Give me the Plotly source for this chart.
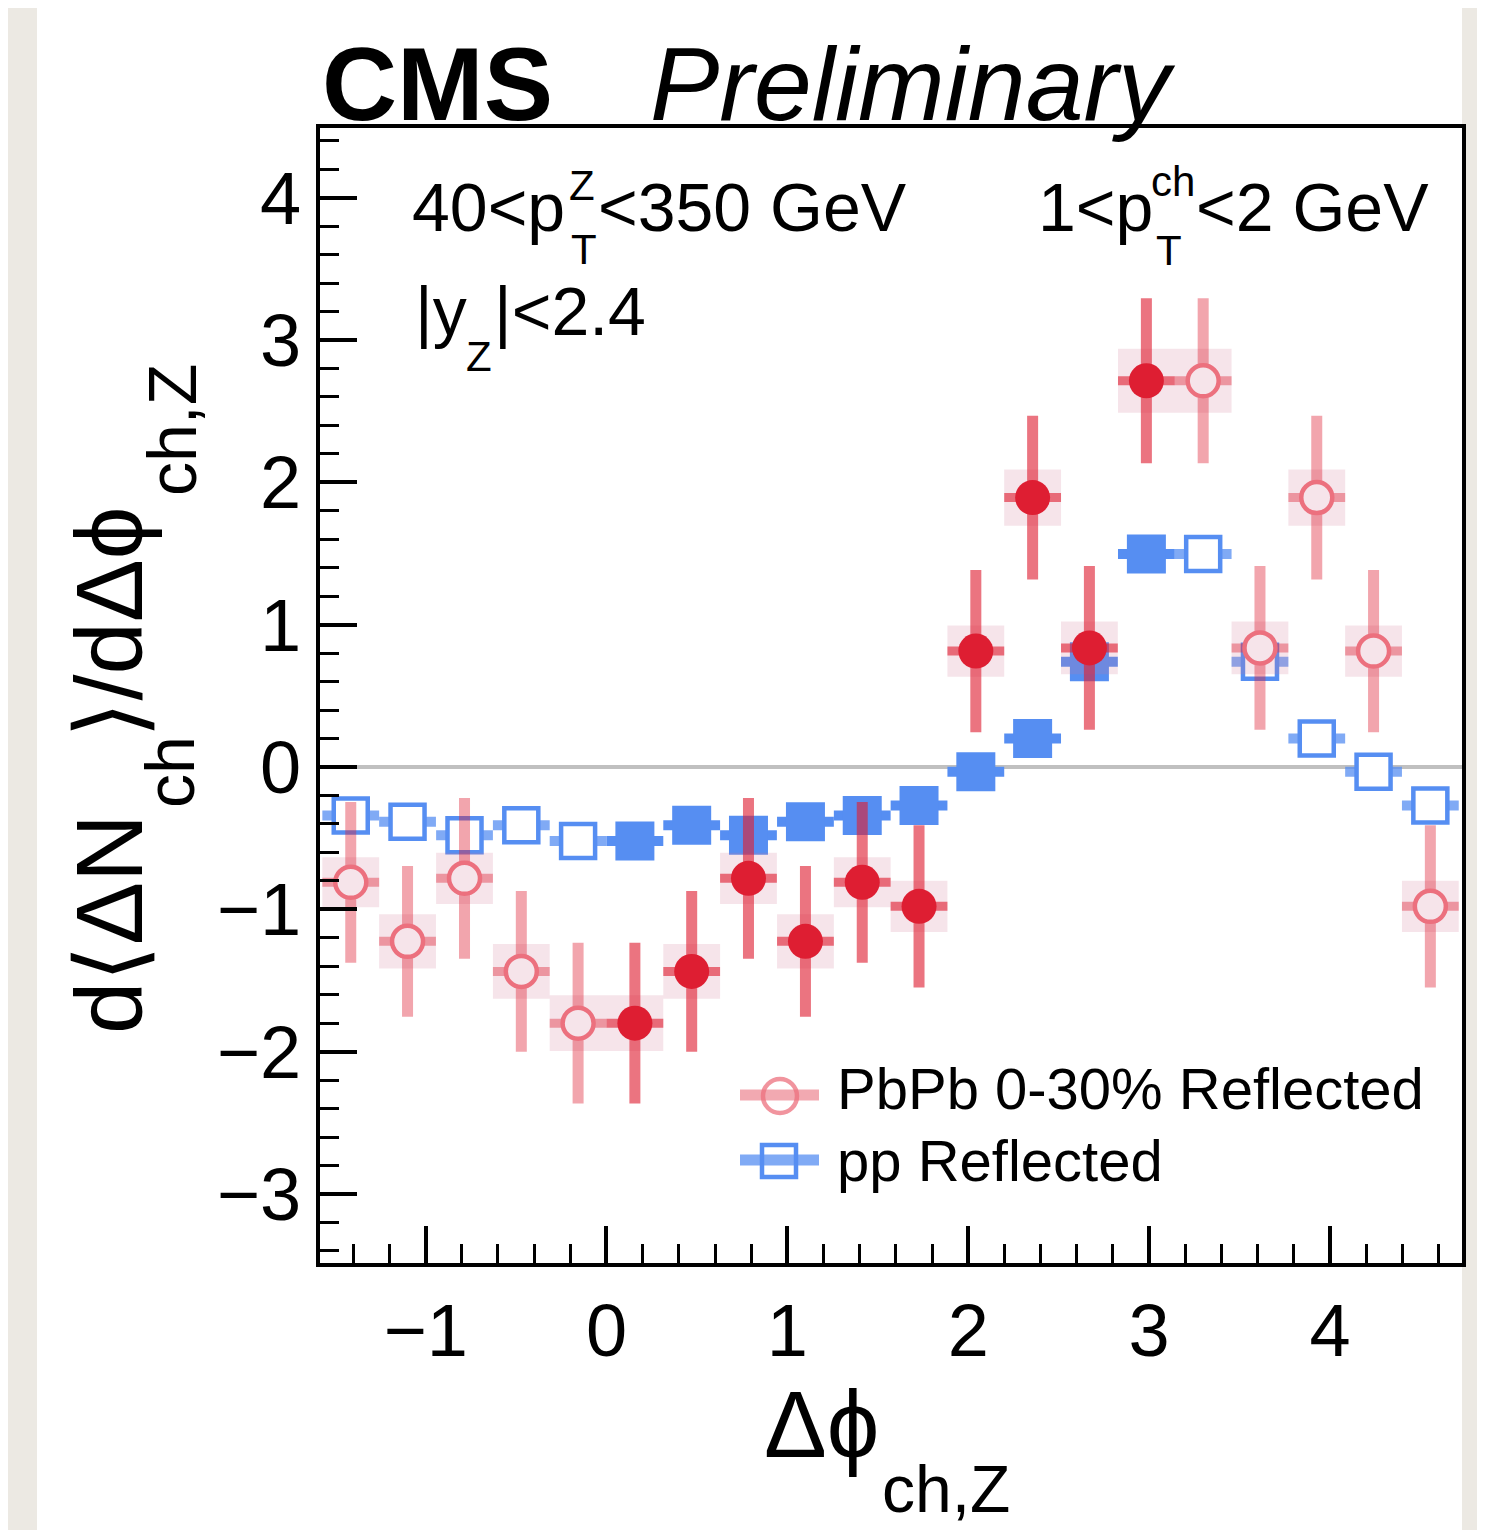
import numpy as np
import plotly.graph_objects as go

# ---------------- data ----------------
bin_width = 0.314  # width of a delta-phi bin (pi/10)

dphi_measured = [0.157, 0.471, 0.785, 1.100, 1.414, 1.728, 2.042, 2.356, 2.670, 2.985]
dphi_reflected = [-1.414, -1.100, -0.785, -0.471, -0.157, 3.299, 3.613, 3.927, 4.241, 4.555]

pbpb_measured = [-1.80, -1.436, -0.782, -1.225, -0.81, -0.979, 0.815, 1.893, 0.837, 2.714]
pbpb_measured_stat = [0.565, 0.565, 0.565, 0.53, 0.565, 0.57, 0.57, 0.575, 0.575, 0.58]
pbpb_measured_syst = [0.196, 0.193, 0.18, 0.19, 0.176, 0.18, 0.18, 0.197, 0.186, 0.225]

pbpb_reflected = [-0.81, -1.225, -0.782, -1.436, -1.80, 2.714, 0.837, 1.893, 0.815, -0.979]
pbpb_reflected_stat = [0.565, 0.53, 0.565, 0.565, 0.565, 0.58, 0.575, 0.575, 0.57, 0.57]
pbpb_reflected_syst = [0.176, 0.19, 0.18, 0.193, 0.196, 0.225, 0.186, 0.197, 0.18, 0.18]

pp_measured = [-0.52, -0.41, -0.48, -0.385, -0.34, -0.27, -0.034, 0.20, 0.74, 1.497]
pp_reflected = [-0.34, -0.385, -0.48, -0.41, -0.52, 1.497, 0.74, 0.20, -0.034, -0.27]

legend_labels = ["PbPb 0-30% Reflected", "pp Reflected"]

# ---------------- styles ----------------
FONT = "Liberation Sans, Arial, Helvetica, sans-serif"
RED = "rgb(222,30,50)"
RED_BAR = "rgba(222,30,50,0.62)"
RED_BAR_LIGHT = "rgba(222,30,50,0.40)"
RED_OPEN_LINE = "rgb(236,112,126)"
BOX_FILL = "rgba(210,120,150,0.2)"
BOX_SOLID = "rgb(246,228,234)"
BLUE = "rgb(86,142,242)"
BLUE_BAR_LIGHT = "rgba(86,142,242,0.75)"

# page is offset by the default 8px body margin: work in page pixels, convert
OFF = 8
PAGE_W, PAGE_H = 1485, 1530
W, H = PAGE_W - OFF, PAGE_H - OFF
AX_L, AX_R, AX_T, AX_B = 320, 1462, 128, 1263  # plot box in page pixels
L, T = AX_L - OFF, AX_T - OFF
R, B = PAGE_W - AX_R, PAGE_H - AX_B
PW, PH = AX_R - AX_L, AX_B - AX_T


def pxx(x):
    return (x - AX_L) / PW


def pxy(y):
    return (AX_B - y) / PH


def box_path(xs, ys, errs, w):
    bx, by = [], []
    for x, y, e in zip(xs, ys, errs):
        bx += [x - w / 2, x + w / 2, x + w / 2, x - w / 2, x - w / 2, None]
        by += [y - e, y - e, y + e, y + e, y - e, None]
    return bx, by


fig = go.Figure()

# pp reflected (open squares)
fig.add_trace(go.Scatter(
    x=dphi_reflected, y=pp_reflected, mode="markers", name=legend_labels[1],
    marker=dict(symbol="square", size=34, color="white", line=dict(color=BLUE, width=4.5)),
    error_x=dict(type="constant", value=bin_width / 2, color=BLUE_BAR_LIGHT, thickness=10, width=0),
    showlegend=False,
))
# pp measured (filled squares)
fig.add_trace(go.Scatter(
    x=dphi_measured, y=pp_measured, mode="markers", name="pp",
    marker=dict(symbol="square", size=39, color=BLUE, line=dict(width=0)),
    error_x=dict(type="constant", value=bin_width / 2, color=BLUE, thickness=10, width=0),
    showlegend=False,
))

# PbPb systematic boxes
bx1, by1 = box_path(dphi_measured, pbpb_measured, pbpb_measured_syst, bin_width)
bx2, by2 = box_path(dphi_reflected, pbpb_reflected, pbpb_reflected_syst, bin_width)
fig.add_trace(go.Scatter(
    x=bx1 + bx2, y=by1 + by2, mode="lines", fill="toself", fillcolor=BOX_FILL,
    line=dict(width=0, color="rgba(0,0,0,0)"), hoverinfo="skip", showlegend=False,
))

# PbPb reflected (open circles)
fig.add_trace(go.Scatter(
    x=dphi_reflected, y=pbpb_reflected, mode="markers", name=legend_labels[0],
    marker=dict(symbol="circle", size=31, color=BOX_SOLID, line=dict(color=RED_OPEN_LINE, width=4.5)),
    error_y=dict(type="data", array=pbpb_reflected_stat, color=RED_BAR_LIGHT, thickness=11, width=0),
    error_x=dict(type="constant", value=bin_width / 2, color=RED_BAR_LIGHT, thickness=9, width=0),
    showlegend=False,
))
# PbPb measured (filled circles)
fig.add_trace(go.Scatter(
    x=dphi_measured, y=pbpb_measured, mode="markers", name="PbPb 0-30%",
    marker=dict(symbol="circle", size=35, color=RED, line=dict(width=0)),
    error_y=dict(type="data", array=pbpb_measured_stat, color=RED_BAR, thickness=11, width=0),
    error_x=dict(type="constant", value=bin_width / 2, color=RED_BAR, thickness=9, width=0),
    showlegend=False,
))

axis_common = dict(
    showline=True, linecolor="black", linewidth=4, mirror=True,
    ticks="inside", ticklen=37, tickwidth=3.5, tickcolor="black",
    showgrid=False, tickfont=dict(family=FONT, size=74, color="black"),
    tick0=0, dtick=1,
    minor=dict(ticks="inside", ticklen=19, tickwidth=3, tickcolor="black", dtick=0.2, showgrid=False),
)

fig.update_xaxes(range=[-1.584, 4.73], zeroline=False, **axis_common)
fig.update_yaxes(range=[-3.485, 4.49], zeroline=True, zerolinecolor="rgb(192,192,192)",
                 zerolinewidth=4, **axis_common)

ann = []


def add_text(text, x, y, size, xanchor="left", yanchor="middle", angle=0):
    ann.append(dict(text=text, x=pxx(x), y=pxy(y), xref="paper", yref="paper",
                    xanchor=xanchor, yanchor=yanchor, showarrow=False, textangle=angle,
                    font=dict(family=FONT, size=size, color="black"), borderpad=0))


# header
add_text("<b>CMS</b>", 321, 84, 104)
add_text("<i>Preliminary</i>", 649, 84, 104)

# kinematic labels
add_text("40&lt;p", 411, 207, 68)
add_text("Z", 568, 185, 42)
add_text("T", 570, 249, 42)
add_text("&lt;350 GeV", 597, 207, 68)

add_text("|y", 414, 311, 68)
add_text("Z", 465, 356, 42)
add_text("|&lt;2.4", 493, 311, 68)

add_text("1&lt;p", 1037, 207, 68)
add_text("ch", 1150, 182, 42)
add_text("T", 1155, 250, 42)
add_text("&lt;2 GeV", 1195, 207, 68)

# legend text
add_text(legend_labels[0], 836, 1088, 58)
add_text(legend_labels[1], 836, 1160, 58)

# x-axis title
add_text("\u0394\u03d5", 763, 1424, 94)
add_text("ch,Z", 881, 1489, 66)

# y-axis title (rotated pieces)
add_text("d\u27e8\u0394N", 109, 1035, 94, xanchor="center", yanchor="bottom", angle=-90)
add_text("ch", 170, 809, 68, xanchor="center", yanchor="bottom", angle=-90)
add_text("\u27e9/d\u0394\u03d5", 109, 739, 94, xanchor="center", yanchor="bottom", angle=-90)
add_text("ch,Z", 172, 497, 68, xanchor="center", yanchor="bottom", angle=-90)

shapes = [
    # white page behind the figure
    dict(type="rect", xref="paper", yref="paper", x0=pxx(37), x1=pxx(1462), y0=pxy(1540), y1=pxy(7),
         fillcolor="white", line=dict(width=0), layer="below"),
    # legend glyphs
    dict(type="line", xref="paper", yref="paper", x0=pxx(740), x1=pxx(819), y0=pxy(1095), y1=pxy(1095),
         line=dict(color="rgba(222,30,50,0.38)", width=11)),
    dict(type="circle", xref="paper", yref="paper", xsizemode="pixel", ysizemode="pixel",
         xanchor=pxx(780), yanchor=pxy(1096), x0=-17, x1=17, y0=-17, y1=17,
         line=dict(color="rgba(236,112,126,0.75)", width=4.5)),
    dict(type="line", xref="paper", yref="paper", x0=pxx(740), x1=pxx(819), y0=pxy(1160), y1=pxy(1160),
         line=dict(color=BLUE_BAR_LIGHT, width=11)),
    dict(type="rect", xref="paper", yref="paper", xsizemode="pixel", ysizemode="pixel",
         xanchor=pxx(779), yanchor=pxy(1161), x0=-17, x1=17, y0=-16, y1=16,
         line=dict(color=BLUE, width=4.5)),
]

fig.update_layout(
    width=W, height=H, margin=dict(l=L, r=R, t=T, b=B, pad=0),
    paper_bgcolor="rgb(236,233,227)", plot_bgcolor="white",
    showlegend=False, annotations=ann, shapes=shapes,
    font=dict(family=FONT, color="black"),
)

fig.write_html("out.html")
